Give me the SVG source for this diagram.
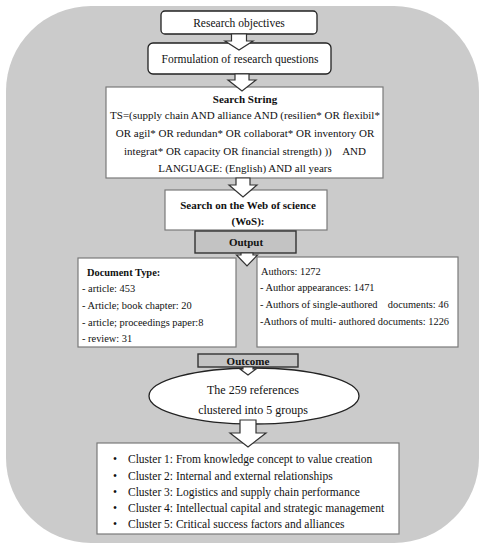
<svg xmlns="http://www.w3.org/2000/svg" width="485" height="550" viewBox="0 0 485 550">
<style>
text{font-family:"Liberation Serif","Times New Roman",serif;fill:#111;}
.c{text-anchor:middle;}
.t{font-size:11.5px;}
.s{font-size:11px;}
.d{font-size:10.4px;}
.b{font-weight:bold;}
.pre{white-space:pre;}
.box{fill:#fff;stroke:#7a7a7a;stroke-width:1.2;}
.rbox{fill:#fff;stroke:#222;stroke-width:1.3;}
.gbox{fill:#c3c3c3;stroke:#333;stroke-width:1.4;}
.arr{fill:#fff;stroke:#333;stroke-width:1.2;stroke-linejoin:miter;}
</style>
<rect x="6" y="6" width="473" height="537" rx="85" ry="85" fill="#cbcbcb"/>
<g id="n-objectives">
<rect class="rbox" x="161" y="11" width="156" height="23" rx="4"/>
<text class="c t" x="239" y="27">Research objectives</text>
</g>
<g id="n-questions">
<rect class="rbox" x="148" y="43" width="183" height="31" rx="5"/>
<text class="c t" x="240" y="63">Formulation of research questions</text>
</g>
<g id="n-search">
<rect class="box" x="106" y="87" width="277" height="91"/>
<text class="c s b" x="245" y="103">Search String</text>
<text class="c s" x="245" y="119">TS=(supply chain AND alliance AND (resilien* OR flexibil*</text>
<text class="c s" x="245" y="137">OR agil* OR redundan* OR collaborat* OR inventory OR</text>
<text class="c s pre" x="245" y="155">integrat* OR capacity OR financial strength) ))    AND</text>
<text class="c s" x="245" y="172">LANGUAGE: (English) AND all years</text>
</g>
<g id="n-wos">
<rect class="box" x="165" y="190" width="162" height="40" stroke="#aaa"/>
<text class="c s b" x="248" y="209">Search on the Web of science</text>
<text class="c s b" x="248" y="225">(WoS):</text>
</g>
<g id="n-output">
<rect class="gbox" x="195" y="231" width="101" height="22"/>
<text class="c s b" x="246" y="246">Output</text>
</g>
<g id="n-doctype">
<rect class="box" x="78" y="258" width="158" height="89"/>
<text class="d b" x="87" y="276">Document Type:</text>
<text class="d" x="82" y="292">- article: 453</text>
<text class="d" x="82" y="309">- Article; book chapter: 20</text>
<text class="d" x="82" y="326">- article; proceedings paper:8</text>
<text class="d" x="82" y="342">- review: 31</text>
</g>
<g id="n-authors">
<rect class="box" x="257" y="257" width="201" height="90"/>
<text class="d" x="261" y="275">Authors: 1272</text>
<text class="d" x="260" y="291">- Author appearances: 1471</text>
<text class="d pre" x="260" y="308">- Authors of single-authored    documents: 46</text>
<text class="d" x="260" y="325">-Authors of multi- authored documents: 1226</text>
</g>
<g id="n-outcome">
<rect class="gbox" x="198" y="354" width="100" height="13"/>
<text class="c s b" x="248" y="364.5">Outcome</text>
</g>
<g id="n-references">
<ellipse cx="254" cy="396" rx="105" ry="28" fill="#fff" stroke="#222" stroke-width="1.3"/>
<text class="c" x="253" y="394" font-size="12">The 259 references</text>
<text class="c" x="253" y="414" font-size="12">clustered into 5 groups</text>
</g>
<g id="n-clusters">
<rect class="box" x="97" y="443" width="302" height="91"/>
<g class="t">
<text x="113" y="463">•</text><text x="128" y="463">Cluster 1: From knowledge concept to value creation</text>
<text x="113" y="479.5">•</text><text x="128" y="479.5">Cluster 2: Internal and external relationships</text>
<text x="113" y="496">•</text><text x="128" y="496">Cluster 3: Logistics and supply chain performance</text>
<text x="113" y="512">•</text><text x="128" y="512">Cluster 4: Intellectual capital and strategic management</text>
<text x="113" y="528">•</text><text x="128" y="528">Cluster 5: Critical success factors and alliances</text>
</g>
</g>
<g id="connectors">
<path class="arr" d="M231.5,34 V41 H225 L239,50 L253,41 H246.5 V34 Z"/>
<path class="arr" d="M235,74 V80 H228 L242,91 L256,80 H249 V74 Z"/>
<path class="arr" d="M236,178 V185 H229 L243,197 L257,185 H250 V178 Z"/>
<path class="arr" d="M241,253 V255 H236.5 L247,266 L257.5,255 H253 V253 Z"/>
<path class="arr" d="M243,367 V369 H240 L248,375 L256,369 H253 V367 Z"/>
<path class="arr" d="M240,420 V433 H230 L248,447 L266,433 H256 V420 Z"/>
</g>
</svg>
